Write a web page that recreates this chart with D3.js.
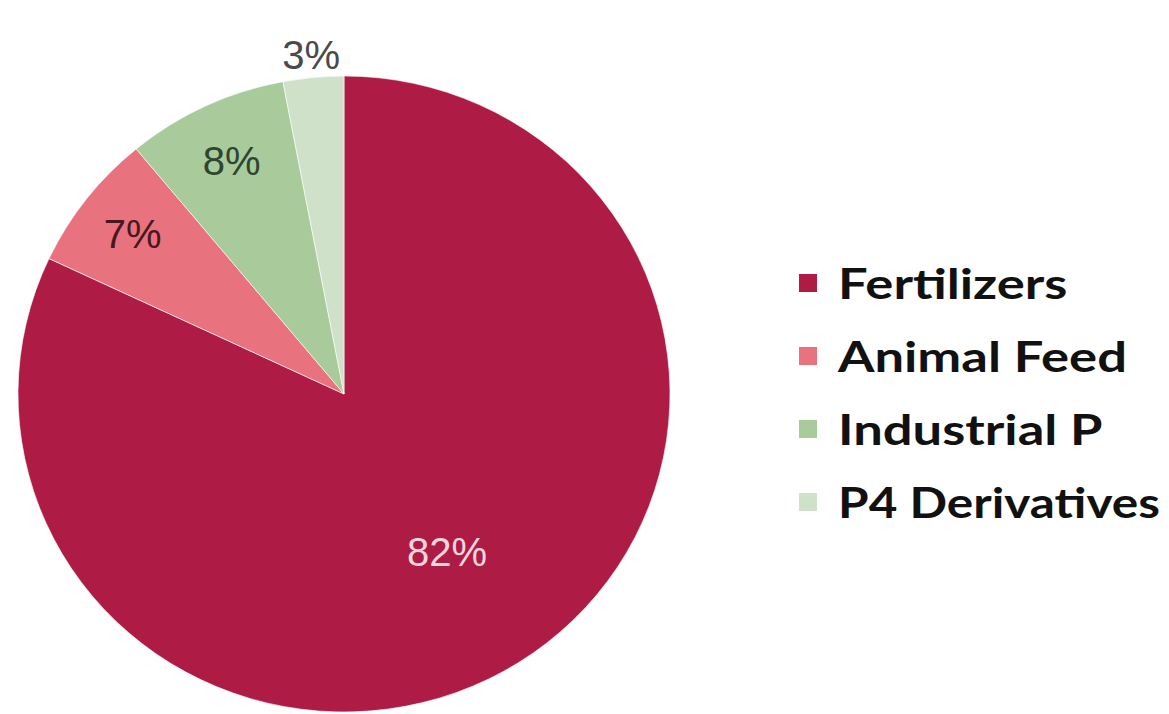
<!DOCTYPE html>
<html>
<head>
<meta charset="utf-8">
<script src="https://cdn.jsdelivr.net/npm/d3@7"></script>
<style>
  html, body { margin: 0; padding: 0; background: #ffffff; }
  svg { display: block; }
</style>
</head>
<body>
<svg id="chart" width="1169" height="714"></svg>
<script>
// ---- data ----
const categories = ["Fertilizers", "Animal Feed", "Industrial P", "P4 Derivatives"];
const shares = [82, 7, 8, 3];
const labels = ["82%", "7%", "8%", "3%"];

// ---- styling / layout ----
const colors = ["#AE1B44", "#E8737F", "#A9CB9B", "#CFE1C8"];
const labelColors = ["#F6D6DE", "#4A1620", "#2E4530", "#4a4a4a"];
const labelRadiusFactor = [0.59, 0.82, 0.81, 1.07];

const W = 1169, H = 714;
const cx = 344, cy = 394, rx = 326, ry = 318;

const svg = d3.select("#chart");

const pie = d3.pie().sort(null).value(d => d.v);
const arcs = pie(categories.map((c, i) => ({ c, v: shares[i], i })));

const arc = d3.arc().innerRadius(0).outerRadius(rx);

const g = svg.append("g")
  .attr("transform", `translate(${cx},${cy}) scale(1,${ry / rx})`);

g.selectAll("path.slice")
  .data(arcs)
  .join("path")
  .attr("class", "slice")
  .attr("d", arc)
  .attr("fill", d => colors[d.data.i])
  .attr("stroke", "#ffffff")
  .attr("stroke-width", 0.6);

// labels
svg.append("g").selectAll("text")
  .data(arcs)
  .join("text")
  .attr("x", d => {
    const a = (d.startAngle + d.endAngle) / 2;
    return cx + Math.sin(a) * rx * labelRadiusFactor[d.data.i];
  })
  .attr("y", d => {
    const a = (d.startAngle + d.endAngle) / 2;
    return cy - Math.cos(a) * ry * labelRadiusFactor[d.data.i];
  })
  .attr("text-anchor", "middle")
  .attr("dominant-baseline", "central")
  .attr("font-family", "'Liberation Sans', Arial, sans-serif")
  .attr("font-size", 40)
  .attr("fill", d => labelColors[d.data.i])
  .text(d => labels[d.data.i]);

// legend
const legendX = 799, textX = 838, maxRight = 1160;
const legend = svg.append("g").attr("transform", `translate(${legendX},283)`);
const rowH = 73;
const items = legend.selectAll("g")
  .data(categories)
  .join("g")
  .attr("transform", (d, i) => `translate(0,${i * rowH})`);

items.append("rect")
  .attr("x", 0).attr("y", -9)
  .attr("width", 18).attr("height", 18)
  .attr("fill", (d, i) => colors[i]);

items.append("text")
  .attr("x", 0)
  .attr("y", 0)
  .attr("dominant-baseline", "central")
  .attr("font-family", "Lato, 'Open Sans', sans-serif")
  .attr("font-weight", "bold")
  .attr("font-size", 42)
  .attr("fill", "#111111")
  .text(d => d)
  .attr("transform", function () {
    const w = this.getComputedTextLength();
    const avail = maxRight - textX;
    const s = Math.min(1.25, avail / w);
    return `translate(${textX - legendX},0) scale(${s},1)`;
  });
</script>
</body>
</html>
